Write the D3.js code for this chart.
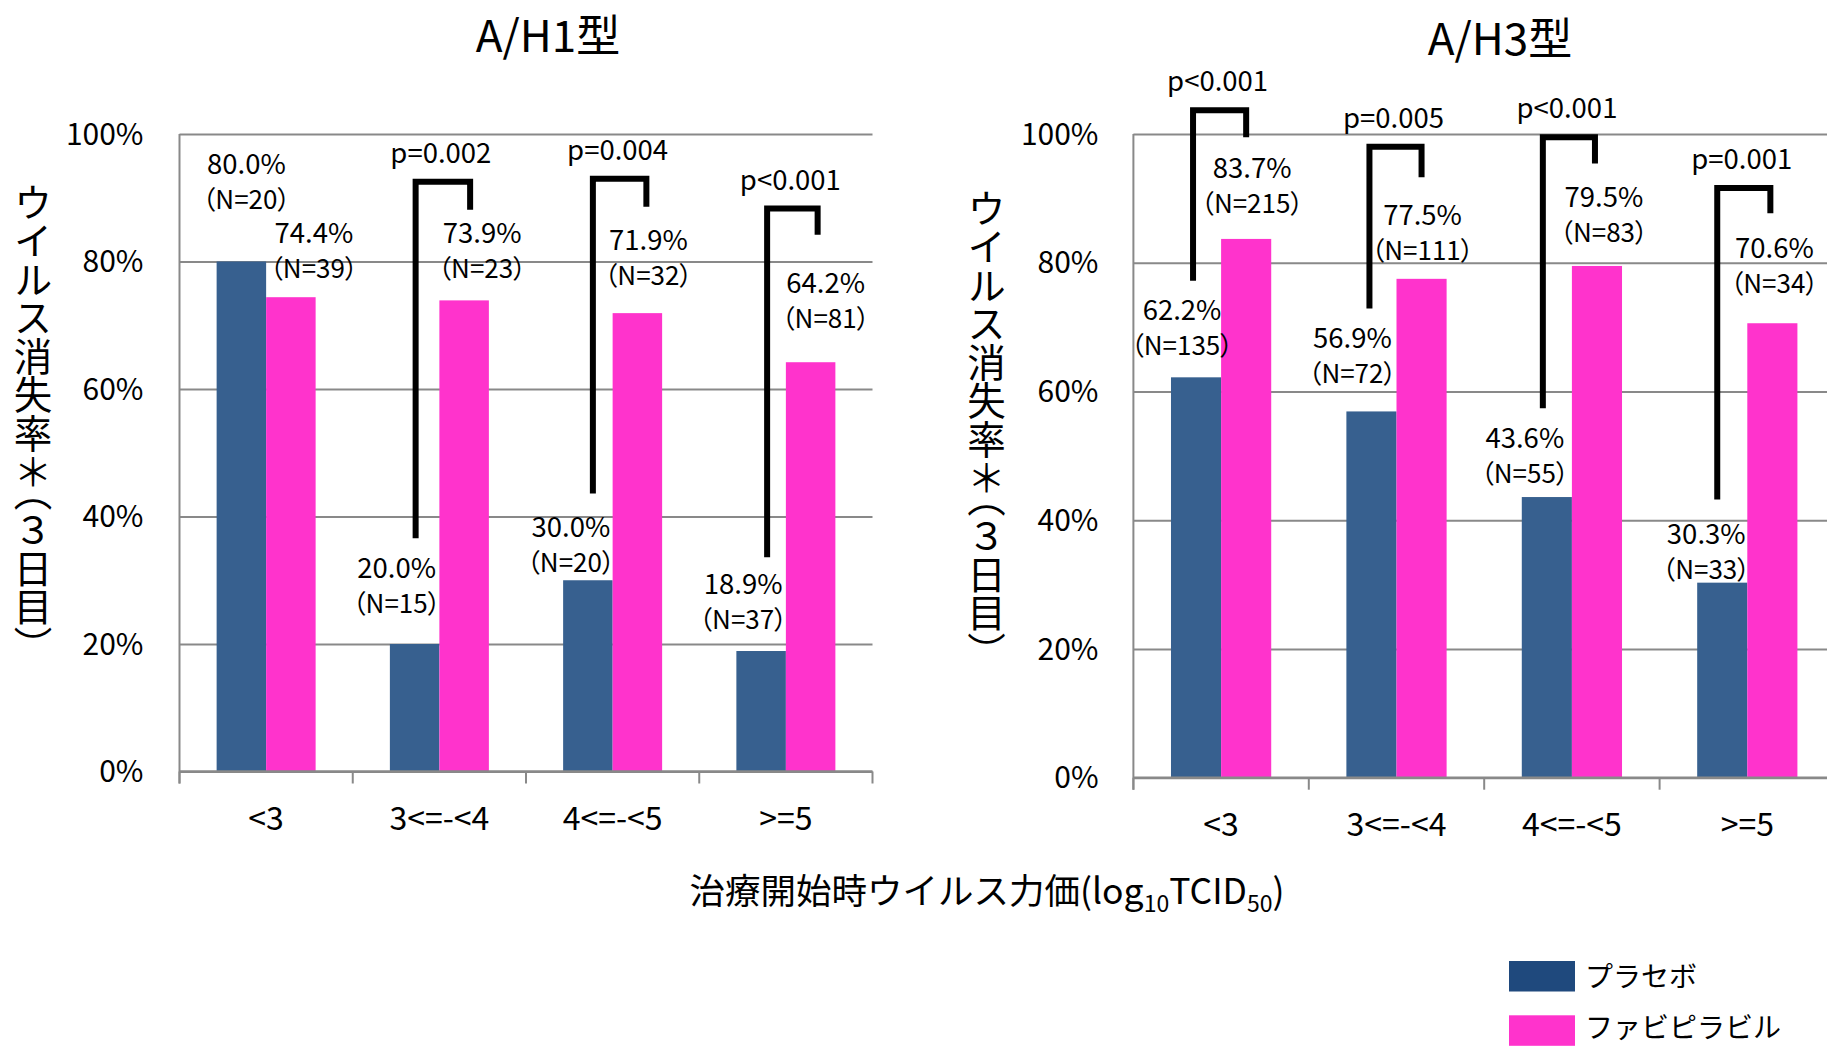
<!DOCTYPE html>
<html>
<head>
<meta charset="utf-8">
<script src="https://cdn.jsdelivr.net/npm/d3@7"></script>
<style>
  body { margin: 0; background: #ffffff; }
  svg { display: block; font-family: "Noto Sans CJK JP", "Noto Sans", sans-serif; }
</style>
</head>
<body>
<svg id="chart" width="1827" height="1047"></svg>
<script>
// ---- data ----
const categories = ["<3", "3<=-<4", "4<=-<5", ">=5"];
const seriesNames = ["プラセボ", "ファビピラビル"];
const yTicks = [0, 20, 40, 60, 80, 100];

// A/H1 subtype: virus clearance rate on day 3 (%)
const h1Placebo = [80.0, 20.0, 30.0, 18.9];
const h1Favipiravir = [74.4, 73.9, 71.9, 64.2];
const h1PlaceboN = [20, 15, 20, 37];
const h1FavipiravirN = [39, 23, 32, 81];
const h1PValues = ["", "p=0.002", "p=0.004", "p<0.001"];

// A/H3 subtype
const h3Placebo = [62.2, 56.9, 43.6, 30.3];
const h3Favipiravir = [83.7, 77.5, 79.5, 70.6];
const h3PlaceboN = [135, 72, 55, 33];
const h3FavipiravirN = [215, 111, 83, 34];
const h3PValues = ["p<0.001", "p=0.005", "p<0.001", "p=0.001"];

// ---- styling / layout ----
const colors = { placebo: "#37608f", favi: "#ff33cc", legendPlacebo: "#1f497d", legendFavi: "#ff33cc" };
const gridColor = "#898989";
const fmtPct = d3.format(".1f");

const panels = [
  {
    title: "A/H1型", titleX: 548, titleY: 52,
    xRange: [179.5, 872.5], yRange: [771.5, 134],
    tickLabelX: 143.5, yTitleX: 33, yTitleY: 183,
    placebo: h1Placebo, favi: h1Favipiravir, placeboN: h1PlaceboN, faviN: h1FavipiravirN, pValues: h1PValues,
    // label anchor shifts [dx, dy] from the bar's top centre
    placeboShift: [[5, -88], [-18, -66], [-17, -43], [-18, -57]],
    faviShift: [[23, -54], [18, -57], [11, -63], [15, -69]],
    // bracket: [top, left leg end, right leg end] in value units, leg x shifts
    brackets: [null,
      { v: [92.5, 36.6, 88.1], dx: [1, 6] },
      { v: [93.0, 43.6, 88.6], dx: [5, 9] },
      { v: [88.3, 33.6, 84.2], dx: [6, 7] }]
  },
  {
    title: "A/H3型", titleX: 1500, titleY: 55,
    xRange: [1133.4, 1835], yRange: [777.7, 134],
    tickLabelX: 1098.5, yTitleX: 986.5, yTitleY: 189,
    placebo: h3Placebo, favi: h3Favipiravir, placeboN: h3PlaceboN, faviN: h3FavipiravirN, pValues: h3PValues,
    placeboShift: [[-14, -57], [-19, -63], [-22, -49], [-16, -39]],
    faviShift: [[6, -61], [1, -54], [7, -59], [2, -65]],
    brackets: [
      { v: [103.7, 77.2, 99.5], dx: [-3, 0] },
      { v: [98.0, 72.9, 93.3], dx: [-2, 0] },
      { v: [99.5, 57.4, 95.4], dx: [-4, -2] },
      { v: [91.6, 43.2, 87.7], dx: [-5, -2] }]
  }
];

const svg = d3.select("#chart");

function drawPanel(p) {
  const g = svg.append("g");
  const x = d3.scaleBand().domain(categories).range(p.xRange).paddingInner(0).paddingOuter(0);
  const xs = d3.scaleBand().domain(["placebo", "favi"]).range([0, x.bandwidth()]).paddingInner(0).paddingOuter(0.75);
  const y = d3.scaleLinear().domain([0, 100]).range(p.yRange);
  const x0 = p.xRange[0], x1 = p.xRange[1];
  const yBase = y(0);

  // title
  g.append("text").attr("x", p.titleX).attr("y", p.titleY)
    .attr("text-anchor", "middle").attr("font-size", 44).attr("fill", "#000").text(p.title);

  // gridlines + y tick labels
  const yAxis = d3.axisLeft(y).tickValues(yTicks).tickFormat(d => d + "%")
    .tickSize(-(x1 - x0)).tickSizeOuter(0).tickPadding(x0 - p.tickLabelX);
  const ya = g.append("g").attr("transform", `translate(${x0},0)`).call(yAxis);
  ya.select(".domain").remove();
  ya.selectAll(".tick line").attr("stroke", gridColor).attr("stroke-width", 2);
  ya.selectAll(".tick text").attr("font-size", 30).attr("fill", "#000")
    .attr("font-family", "Noto Sans CJK JP").attr("dy", "0.34em");

  // bars
  const rows = categories.map((c, i) => ({ c, i }));
  ["placebo", "favi"].forEach(key => {
    g.append("g").selectAll("rect").data(rows).join("rect")
      .attr("x", d => x(d.c) + xs(key))
      .attr("y", d => y(p[key][d.i]))
      .attr("width", xs.bandwidth())
      .attr("height", d => yBase - y(p[key][d.i]))
      .attr("fill", colors[key]);
  });

  // axis lines and category ticks
  g.append("line").attr("x1", x0).attr("x2", x0).attr("y1", y(100)).attr("y2", yBase + 12)
    .attr("stroke", gridColor).attr("stroke-width", 2);
  g.append("line").attr("x1", x0).attr("x2", x1).attr("y1", yBase).attr("y2", yBase)
    .attr("stroke", gridColor).attr("stroke-width", 2.5);
  const bounds = categories.map(c => x(c)).concat([x1]);
  g.append("g").selectAll("line").data(bounds).join("line")
    .attr("x1", d => d).attr("x2", d => d).attr("y1", yBase).attr("y2", yBase + 12)
    .attr("stroke", gridColor).attr("stroke-width", 2);

  // category labels
  const xAxis = d3.axisBottom(x).tickSize(0).tickPadding(0);
  const xa = g.append("g").attr("transform", `translate(0,${yBase + 58})`).call(xAxis);
  xa.select(".domain").remove();
  xa.selectAll(".tick text").attr("font-size", 32).attr("fill", "#000")
    .attr("font-family", "Noto Sans CJK JP").attr("dy", 0);

  // vertical axis title
  g.append("text").attr("x", p.yTitleX).attr("y", p.yTitleY)
    .style("writing-mode", "vertical-rl")
    .style("font-feature-settings", '"vhal" 1')
    .attr("font-size", 38.5).attr("fill", "#000")
    .text("ウイルス消失率＊（３日目）");

  // value labels
  const labels = [];
  rows.forEach(d => {
    labels.push({ key: "placebo", i: d.i, v: p.placebo[d.i], n: p.placeboN[d.i], s: p.placeboShift[d.i], c: d.c });
    labels.push({ key: "favi", i: d.i, v: p.favi[d.i], n: p.faviN[d.i], s: p.faviShift[d.i], c: d.c });
  });
  const lg = g.append("g").attr("fill", "#000").attr("text-anchor", "middle");
  labels.forEach(l => {
    const cx = x(l.c) + xs(l.key) + xs.bandwidth() / 2 + l.s[0];
    const by = y(l.v) + l.s[1];
    lg.append("text").attr("x", cx).attr("y", by).attr("font-size", 27.5).text(fmtPct(l.v) + "%");
    lg.append("text").attr("x", cx).attr("y", by + 35).attr("font-size", 26)
      .style("font-feature-settings", '"palt" 1')
      .text("（N=" + l.n + "）");
  });

  // significance brackets
  p.brackets.forEach((b, i) => {
    if (!b) return;
    const c = categories[i];
    const xl = x(c) + xs("placebo") + xs.bandwidth() / 2 + b.dx[0];
    const xr = x(c) + xs("favi") + xs.bandwidth() / 2 + b.dx[1];
    const yt = y(b.v[0]);
    g.append("path")
      .attr("d", `M${xl},${y(b.v[1])}V${yt}H${xr}V${y(b.v[2])}`)
      .attr("fill", "none").attr("stroke", "#000").attr("stroke-width", 6)
      .attr("stroke-linejoin", "miter");
    g.append("text").attr("x", (xl + xr) / 2 - 2).attr("y", yt - 19)
      .attr("text-anchor", "middle").attr("font-size", 27.5).attr("fill", "#000")
      .text(p.pValues[i]);
  });
}

panels.forEach(drawPanel);

// shared x-axis title
const xt = svg.append("text").attr("x", 987).attr("y", 904)
  .attr("text-anchor", "middle").attr("font-size", 35.5).attr("fill", "#000");
xt.append("tspan").text("治療開始時ウイルス力価(log");
xt.append("tspan").attr("font-size", 23).attr("dy", 8).text("10");
xt.append("tspan").attr("dy", -8).text("TCID");
xt.append("tspan").attr("font-size", 23).attr("dy", 8).text("50");
xt.append("tspan").attr("dy", -8).text(")");

// legend
const legend = svg.append("g");
const legendKeys = [colors.legendPlacebo, colors.legendFavi];
const legendTop = d3.scalePoint().domain(seriesNames).range([961, 1015.3]);
seriesNames.forEach((name, i) => {
  legend.append("rect").attr("x", 1509).attr("y", legendTop(name))
    .attr("width", 66).attr("height", 30.5).attr("fill", legendKeys[i]);
  legend.append("text").attr("x", 1585).attr("y", Math.min(legendTop(name) + 26, 1038))
    .attr("font-size", 28).attr("fill", "#000").text(name);
});
</script>
</body>
</html>
